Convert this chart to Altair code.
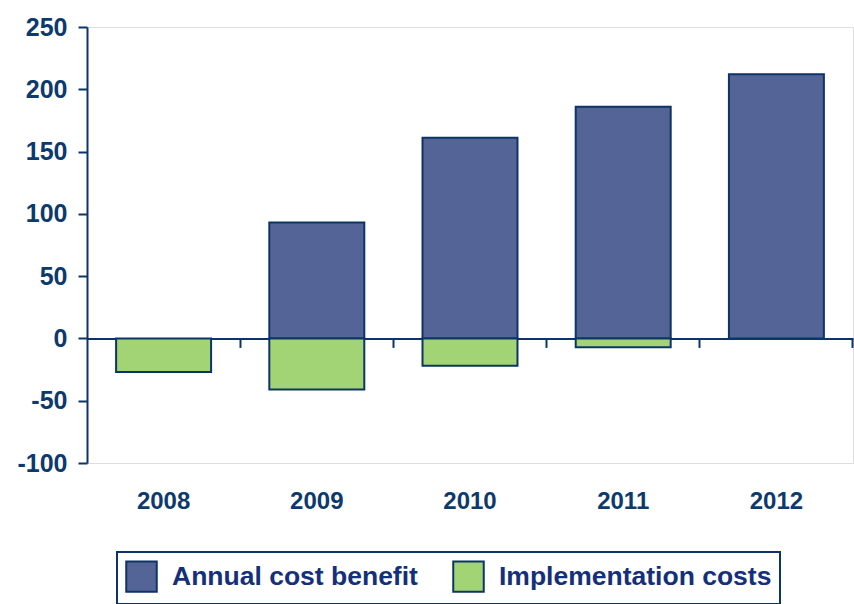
import altair as alt
import pandas as pd

years = ["2008", "2009", "2010", "2011", "2012"]
annual_benefit = [0, 93, 161, 186, 212]
implementation_costs = [-27, -41, -22, -7, 0]
series_names = ["Annual cost benefit", "Implementation costs"]
y_ticks = [-100, -50, 0, 50, 100, 150, 200, 250]

rows = []
for i, yr in enumerate(years):
    rows.append({"year": yr, "series": series_names[0], "value": annual_benefit[i]})
    rows.append({"year": yr, "series": series_names[1], "value": implementation_costs[i]})
df = pd.DataFrame(rows)

NAVY = "#0c3466"
TEXT = "#0d3a6c"
FONT = "Liberation Sans"
PI = 0.38

xscale = alt.Scale(domain=years, paddingInner=PI, paddingOuter=PI / 2)
yscale = alt.Scale(domain=[-100, 250], nice=False, zero=True)

bars = alt.Chart(df).transform_filter("datum.value != 0").mark_bar(
    stroke=NAVY, strokeWidth=2, opacity=1
).encode(
    x=alt.X("year:N", scale=xscale, sort=years, title=None,
            axis=alt.Axis(orient="bottom", domain=False, ticks=False, labelAngle=0,
                          labelFont=FONT, labelFontSize=24, labelFontWeight="bold",
                          labelColor=TEXT, labelPadding=26)),
    y=alt.Y("value:Q", scale=yscale, title=None, stack=None,
            axis=alt.Axis(values=y_ticks, grid=False, domainColor=NAVY, domainWidth=2,
                          tickColor=NAVY, tickWidth=2, tickSize=9,
                          labelExpr="datum.value",
                          labelFont=FONT, labelFontSize=25, labelFontWeight="bold",
                          labelColor=TEXT, labelPadding=11)),
    color=alt.Color("series:N", sort=series_names,
                    scale=alt.Scale(domain=series_names, range=["#546497", "#a2d475"]),
                    legend=alt.Legend(title=None, orient="none", legendX=30, legendY=525,
                                      direction="horizontal", columns=2,
                                      symbolType="square", symbolSize=930,
                                      symbolStrokeColor=NAVY, symbolStrokeWidth=2,
                                      symbolOpacity=1,
                                      labelFont=FONT, labelFontSize=26.5, labelFontWeight="bold",
                                      labelColor="#15307a", labelOffset=14, labelLimit=0,
                                      columnPadding=31, padding=8,
                                      strokeColor=NAVY)),
)

zero_axis = alt.Chart(pd.DataFrame({"year": years})).mark_point(opacity=0).encode(
    x=alt.X("year:N", scale=xscale, sort=years, title=None,
            axis=alt.Axis(orient="bottom", labels=False, domain=True, ticks=True,
                          bandPosition=1 + (PI / 2) / (1 - PI),
                          domainColor=NAVY, domainWidth=2,
                          tickColor=NAVY, tickWidth=2, tickSize=9,
                          offset=-124.6)),
)

chart = alt.layer(bars, zero_axis).resolve_axis(x="independent").properties(
    width=766, height=436,
    autosize=alt.AutoSizeParams(type="none"),
    padding={"left": 87, "top": 27, "right": 1, "bottom": 141},
).configure_view(stroke=None).configure(background="white").configure_legend(strokeWidth=2)

chart.save("out.html", embed_options={"renderer": "svg", "actions": False})
